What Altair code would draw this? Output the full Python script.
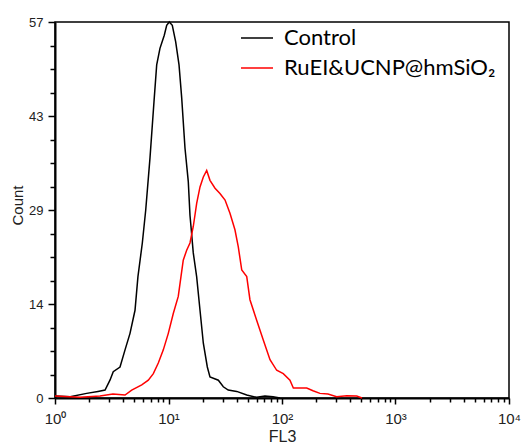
import altair as alt
import pandas as pd

# FL3 intensity (x) and event count (y) for each series
control_fl3 = [1.0, 1.36, 1.90, 2.39, 2.76, 3.05, 3.26, 3.74, 4.14, 4.58, 5.07, 5.38, 5.88, 6.30,
               6.87, 7.45, 7.87, 8.41, 9.18, 9.64, 10.16, 10.8, 11.57, 12.38, 13.07, 13.97, 14.94,
               15.46, 15.78, 16.53, 17.7, 18.95, 20.27, 21.98, 23.2, 27.5, 30.4, 33.6, 39.9, 48.9,
               59.8, 70.8, 83.4, 96.0]
control_count = [0.3, 0.2, 0.7, 1.0, 1.2, 2.7, 4.0, 4.7, 7.3, 9.8, 13.3, 18.4, 23.5, 28.5,
                 36.4, 44.9, 50.5, 53.0, 55.0, 56.5, 57.0, 56.5, 54.0, 50.5, 45.5, 37.9, 32.8,
                 27.7, 26.0, 22.0, 18.4, 13.3, 8.3, 4.7, 3.2, 2.7, 1.7, 1.2, 1.0, 0.45,
                 0.1, 0.3, 0.2, 0.0]

ruei_fl3 = [1.0, 1.66, 2.49, 3.24, 4.14, 4.74, 5.81, 6.64, 7.35, 8.13, 9.0, 9.96, 11.02, 12.19,
            12.88, 13.49, 14.46, 15.46, 16.53, 17.71, 18.95, 20.27, 21.7, 23.2, 25.7, 28.4, 31.5,
            34.8, 38.5, 41.2, 44.2, 48.9, 52.2, 59.8, 68.4, 78.4, 89.8, 102.6, 117.5, 125.9,
            144.2, 165.1, 187.5, 216.0, 254.0, 303.0, 372.0, 455.0, 507.0]
ruei_count = [0.3, 0.1, 0.3, 0.6, 0.45, 1.2, 2.0, 2.7, 3.7, 5.3, 7.3, 9.8, 12.8, 15.4,
              18.4, 20.9, 22.4, 23.5, 26.0, 29.5, 32.0, 33.5, 34.5, 33.0, 31.8, 31.0, 30.0,
              28.0, 25.5, 22.9, 19.4, 18.4, 14.9, 11.8, 8.8, 5.8, 4.2, 3.7, 2.7, 1.5,
              1.5, 1.5, 1.1, 0.7, 0.6, 0.2, 0.35, 0.3, 0.0]

series = ["Control", "RuEI&UCNP@hmSiO\u2082"]
colors = ["black", "red"]

y_ticks = [0, 3.5625, 7.125, 10.6875, 14.25, 17.8125, 21.375, 24.9375, 28.5,
           32.0625, 35.625, 39.1875, 42.75, 46.3125, 49.875, 53.4375, 57]
x_ticks = [1, 2, 3, 4, 5, 6, 7, 8, 9,
           10, 20, 30, 40, 50, 60, 70, 80, 90,
           100, 200, 300, 400, 500, 600, 700, 800, 900,
           1000, 2000, 3000, 4000, 5000, 6000, 7000, 8000, 9000, 10000]

df = pd.concat([
    pd.DataFrame({"FL3": control_fl3, "Count": control_count, "Sample": series[0]}),
    pd.DataFrame({"FL3": ruei_fl3, "Count": ruei_count, "Sample": series[1]}),
])

x_major = "abs(log(datum.value)/LN10 - round(log(datum.value)/LN10)) < 0.01"
y_major = "abs(datum.value/14.25 - round(datum.value/14.25)) < 0.001"

chart = alt.Chart(df).mark_line(strokeWidth=1.5, interpolate="linear").encode(
    x=alt.X("FL3:Q",
            scale=alt.Scale(type="log", domain=[1, 10000], nice=False),
            axis=alt.Axis(values=x_ticks, title="FL3", grid=False,
                          labelExpr=x_major + " ? '10' + ['\u2070','\u00b9','\u00b2','\u00b3','\u2074'][round(log(datum.value)/LN10)] : ''",
                          labelOverlap=False, labelFlush=False,
                          tickSize={"condition": {"test": x_major, "value": 6}, "value": 4},
                          tickWidth=1.5, tickColor="black",
                          domainColor="black", domainWidth=2,
                          labelFont="Liberation Sans", labelFontSize=15, labelColor="#222",
                          labelPadding=7,
                          titleFont="Liberation Sans", titleFontSize=16, titleFontWeight="normal",
                          titleColor="#222", titleY=30)),
    y=alt.Y("Count:Q",
            scale=alt.Scale(domain=[0, 57], nice=False, zero=True),
            axis=alt.Axis(values=y_ticks, title="Count", grid=False,
                          labelExpr=y_major + " ? format(round(datum.value), 'd') : ''",
                          labelOverlap=False, labelFlush=False,
                          tickSize={"condition": {"test": y_major, "value": 7}, "value": 5},
                          tickWidth=1.5, tickColor="black",
                          domainColor="black", domainWidth=2,
                          labelFont="Liberation Sans", labelFontSize=13, labelColor="#222",
                          labelPadding=5,
                          titleFont="Liberation Sans", titleFontSize=15, titleFontWeight="normal",
                          titleColor="#222", titleX=-30, titleY=183)),
    color=alt.Color("Sample:N",
                    scale=alt.Scale(domain=series, range=colors),
                    legend=alt.Legend(orient="none", legendX=185, legendY=-1, title=None,
                                      symbolType="stroke", symbolSize=1024, symbolStrokeWidth=1.5,
                                      labelFont="Lato", labelFontSize=22, labelColor="black",
                                      labelOffset=10, rowPadding=2, padding=0, labelLimit=400)),
).properties(
    width=454, height=376,
    autosize=alt.AutoSizeParams(type="none"),
    padding={"left": 47, "top": 14, "right": 15, "bottom": 50},
).configure_view(stroke="black", strokeWidth=1.5)

chart.save("out.html", embed_options={"renderer": "svg", "actions": False})
